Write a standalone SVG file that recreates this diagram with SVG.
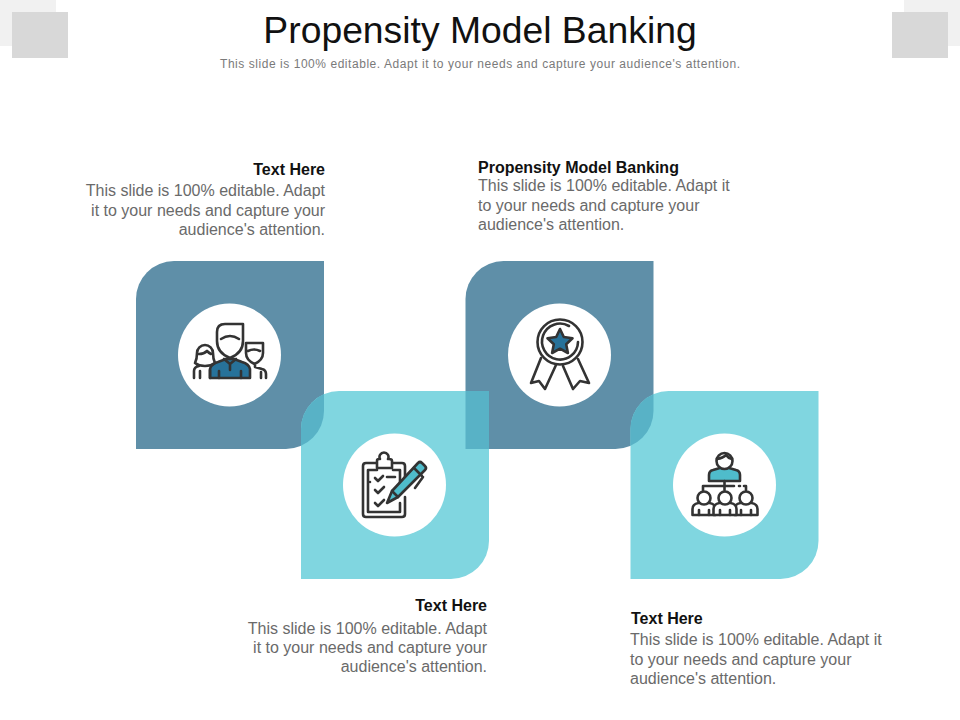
<svg xmlns="http://www.w3.org/2000/svg" width="960" height="720" viewBox="0 0 960 720">
<style>
text{font-family:"Liberation Sans",Arial,sans-serif}
.h{font-size:16px;font-weight:bold;fill:#111}
.b{font-size:16px;fill:#6a6a6a}
.e{text-anchor:end}
.dark{fill:#5f8fa8}
.light{fill:#80d6e0}
.ov{fill:#58b2c6}
.c{fill:#fff}
.i{fill:none;stroke:#333;stroke-width:2.6;stroke-linecap:round;stroke-linejoin:round}
.w{fill:#fff;stroke:#333;stroke-width:2.6;stroke-linejoin:round}
.tb{fill:#27729a;stroke:#333;stroke-width:2.6;stroke-linejoin:round}
.tl{fill:#4fbccb;stroke:#333;stroke-width:2.6;stroke-linejoin:round}
</style>
<defs>
<path id="tile" d="M38 0H188V150A38 38 0 0 1 150 188H0V38A38 38 0 0 1 38 0Z"/>
<clipPath id="cd1"><use href="#tile" x="136" y="261"/></clipPath>
<clipPath id="cd2"><use href="#tile" x="465.500" y="261"/></clipPath>
<g id="person"><path d="M-11.500 17v-6q0-5 6-6h11q6 1 6 6v6z" class="w"/><circle cx="0" cy="0" r="6.500" class="w"/><path d="M-5 17v-5M5 17v-5" class="i"/></g>
</defs>
<g id="decor">
<rect x="0" y="0" width="56" height="46" fill="#f1f1f1"/>
<rect x="904" y="0" width="56" height="46" fill="#f1f1f1"/>
<rect x="12" y="12" width="56" height="46" fill="#d8d8d8"/>
<rect x="892" y="12" width="56" height="46" fill="#d8d8d8"/>
</g>
<g id="title">
<text x="480" y="43" font-size="37.300" text-anchor="middle" fill="#111">Propensity Model Banking</text>
<text x="480" y="67.500" font-size="12" text-anchor="middle" fill="#7a7a7a" textLength="520">This slide is 100% editable. Adapt it to your needs and capture your audience's attention.</text>
</g>
<g id="tiles">
<use href="#tile" x="136" y="261" class="dark"/>
<use href="#tile" x="465.500" y="261" class="dark"/>
<use href="#tile" x="301" y="391" class="light"/>
<use href="#tile" x="630.500" y="391" class="light"/>
<g clip-path="url(#cd1)"><use href="#tile" x="301" y="391" class="ov"/></g>
<g clip-path="url(#cd2)"><use href="#tile" x="301" y="391" class="ov"/><use href="#tile" x="630.500" y="391" class="ov"/></g>
</g>
<g id="node-people">
<circle class="c" cx="229.500" cy="355" r="51.500"/>
<path class="tb" d="M210 378v-9q1-5 8-7l8-3h8l8 3q7 2 8 7v9z"/>
<path class="i" d="M217 341v-9q0-8 8-8h18v17q0 12-13 17-13-5-13-17zM221 339q9-6 18 0M224 359l6 5 6-5M230 364v6M219 378v-7M241 378v-7"/>
<path class="i" d="M197 353a8 8 0 0 1 16 0q0 6 2 10-4 3-10 3t-10-3q2-4 2-10zM199 354q5 0 8-3 2 2 4 3M194 378v-7q0-4 5-5M200 378v-7M210 378v-8"/>
<path class="i" d="M246 343h17v10q0 7-8.500 11-8.500-4-8.500-11zM248 351q6-3 12 0M255 364v3l7 2q4 1 4 5v4M261 378v-6"/>
</g>
<g id="node-award">
<circle class="c" cx="559.500" cy="355" r="51.500"/>
<circle class="i" cx="560" cy="342" r="22.500"/>
<path class="i" d="M569 326a18 18 0 1 0 9 16"/>
<path class="tb" d="M560 329l3.800 8 8.700 1.200-6.300 6 1.700 8.800-7.900-4.300-7.900 4.300 1.700-8.800-6.300-6 8.700-1.200z"/>
<path class="i" d="M541 358l-10 25 8-2 6 8 11-24M578 359l11 24-9-2-7 8-10-23"/>
</g>
<g id="node-checklist">
<circle class="c" cx="394.500" cy="485" r="51.500"/>
<path class="i" d="M377 463h-11q-3 0-3 3v48q0 3 3 3h36q3 0 3-3v-17M405 483v-17q0-3-3-3h-9M377 468v-7q0-2 2-2h1a4.500 4.500 0 1 1 8 0h1q3 0 3 2v7zM377 470h-9v42h32v-9M393 470h7v16"/>
<path class="i" d="M375 478l3 3 5-5M375 490l3 3 6-6M375 503l3 3 6-6M387 477h8M370 482h0"/>
<path class="tl" d="M392 491l26-28q2-2 4 0l3 3q2 2 0 4l-27 27-11 6z"/>
<path class="i" d="M414 468l8 8M392 491l6 6M415 488l8-11"/>
</g>
<g id="node-org">
<circle class="c" cx="724.500" cy="485" r="51.500"/>
<path class="tl" d="M709 481v-6q0-4 4-5l7-2h9l7 2q4 1 4 5v6z"/>
<circle class="w" cx="724.500" cy="461" r="8"/>
<path class="i" d="M717 459q6-1 9-4 2 3 6 4M724.500 481v9M703 490v-4h31M739 486h1M744 486h2v4"/>
<use href="#person" x="704" y="498"/>
<use href="#person" x="746" y="498"/>
<use href="#person" x="725" y="498"/>
</g>
<g id="label-1">
<text class="h e" x="325" y="175">Text Here</text>
<text class="b e" x="325" y="196">This slide is 100% editable. Adapt</text>
<text class="b e" x="325" y="216">it to your needs and capture your</text>
<text class="b e" x="325" y="235">audience's attention.</text>
</g>
<g id="label-2">
<text class="h" x="478" y="173">Propensity Model Banking</text>
<text class="b" x="478" y="191">This slide is 100% editable. Adapt it</text>
<text class="b" x="478" y="211">to your needs and capture your</text>
<text class="b" x="478" y="230">audience's attention.</text>
</g>
<g id="label-3">
<text class="h e" x="487" y="611">Text Here</text>
<text class="b e" x="487" y="634">This slide is 100% editable. Adapt</text>
<text class="b e" x="487" y="653">it to your needs and capture your</text>
<text class="b e" x="487" y="672">audience's attention.</text>
</g>
<g id="label-4">
<text class="h" x="631" y="624">Text Here</text>
<text class="b" x="630" y="645">This slide is 100% editable. Adapt it</text>
<text class="b" x="630" y="665">to your needs and capture your</text>
<text class="b" x="630" y="684">audience's attention.</text>
</g>
</svg>
